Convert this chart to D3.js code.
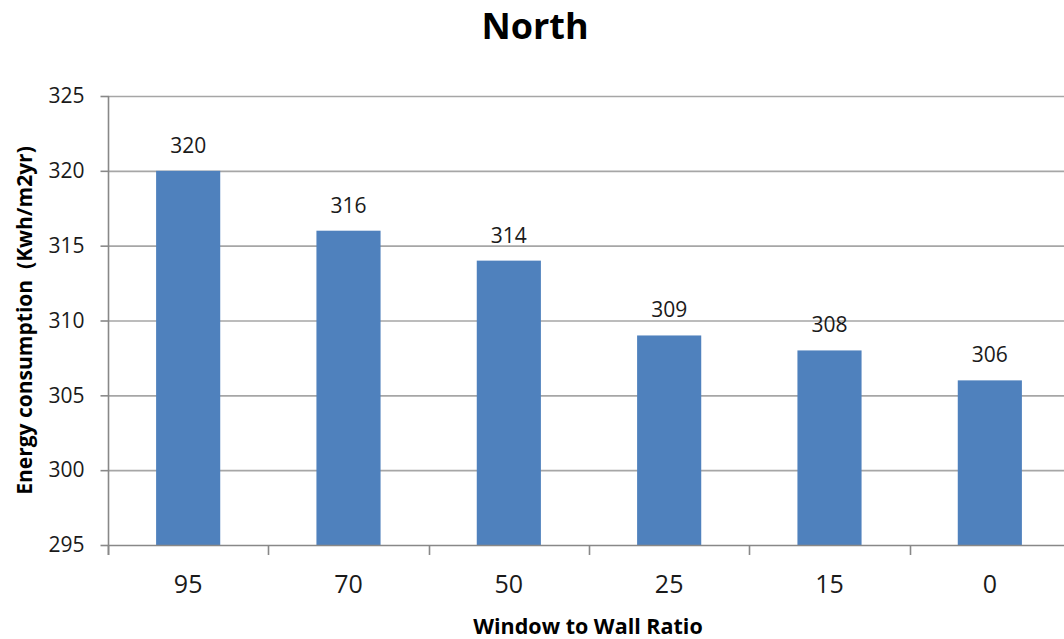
<!DOCTYPE html>
<html>
<head>
<meta charset="utf-8">
<script src="https://cdn.jsdelivr.net/npm/d3@7"></script>
<style>
  html, body { margin: 0; padding: 0; background: #fff; }
  svg { display: block; font-family: "Open Sans", "Noto Sans", sans-serif; }
</style>
</head>
<body>
<svg id="chart" width="1064" height="639"></svg>
<script>
// Window-to-wall ratios (%) and annual energy use for the north facade
const categories = ["95", "70", "50", "25", "15", "0"];
const energyValues = [320, 316, 314, 309, 308, 306];
const yTicks = [295, 300, 305, 310, 315, 320, 325];

const svg = d3.select("#chart");
const plotLeft = 108, plotRight = 1070, plotTop = 96, plotBottom = 545;
const fontFamily = "'Open Sans', 'Noto Sans', sans-serif";

const x = d3.scaleBand().domain(categories).range([plotLeft, plotRight]).padding(0);
const y = d3.scaleLinear().domain([295, 325]).range([plotBottom, plotTop]);

// horizontal gridlines
svg.append("g").selectAll("line").data(yTicks.slice(1)).join("line")
  .attr("x1", plotLeft).attr("x2", plotRight)
  .attr("y1", d => y(d) + 0.5).attr("y2", d => y(d) + 0.5)
  .attr("stroke", "#a6a6a6").attr("stroke-width", 1.6);

// y axis
const yAxis = svg.append("g").attr("transform", `translate(${plotLeft + 0.5},0)`)
  .call(d3.axisLeft(y).tickValues(yTicks).tickSize(8).tickPadding(16).tickFormat(d3.format("d")));
yAxis.attr("font-family", fontFamily);
yAxis.select(".domain").attr("stroke", "#888").attr("stroke-width", 1.6)
  .attr("d", `M0,${plotTop}V${plotBottom + 10}`);
yAxis.selectAll(".tick line").attr("stroke", "#888").attr("stroke-width", 1.6);
yAxis.selectAll(".tick text").attr("font-size", 21).attr("fill", "#1a1a1a");

// bars
const barW = x.step() * 0.4;
svg.append("g").selectAll("rect").data(energyValues).join("rect")
  .attr("x", (d, i) => x(categories[i]) + x.bandwidth() / 2 - barW / 2)
  .attr("y", d => y(d))
  .attr("width", barW)
  .attr("height", d => y(295) - y(d))
  .attr("fill", "#4f81bd");

// x axis
const xAxis = svg.append("g").attr("transform", `translate(0,${plotBottom + 0.5})`)
  .call(d3.axisBottom(x).tickSize(0).tickPadding(30));
xAxis.attr("font-family", fontFamily);
xAxis.select(".domain").attr("stroke", "#888").attr("stroke-width", 1.6)
  .attr("d", `M${plotLeft},0H${plotRight}`);
xAxis.selectAll(".tick text").attr("font-size", 25).attr("fill", "#1a1a1a");
// category boundary ticks
svg.append("g").selectAll("line")
  .data(categories.map(c => x(c)).concat([plotRight]))
  .join("line")
  .attr("x1", d => Math.round(d) + 0.5).attr("x2", d => Math.round(d) + 0.5)
  .attr("y1", plotBottom).attr("y2", plotBottom + 10)
  .attr("stroke", "#888").attr("stroke-width", 1.6);

// value labels
svg.append("g").selectAll("text").data(energyValues).join("text")
  .attr("x", (d, i) => x(categories[i]) + x.bandwidth() / 2)
  .attr("y", d => y(d) - 18)
  .attr("text-anchor", "middle")
  .attr("font-size", 21).attr("fill", "#1a1a1a")
  .text(d => d);

// titles
svg.append("text").attr("x", 535).attr("y", 39).attr("text-anchor", "middle")
  .attr("font-size", 36).attr("font-weight", "bold").attr("fill", "#000")
  .text("North");
svg.append("text").attr("x", 588).attr("y", 634).attr("text-anchor", "middle")
  .attr("font-size", 21.5).attr("font-weight", "bold").attr("fill", "#000")
  .text("Window to Wall Ratio");
svg.append("text")
  .attr("transform", `translate(32,${(plotTop + plotBottom) / 2}) rotate(-90)`)
  .attr("text-anchor", "middle")
  .attr("font-size", 21).attr("font-weight", "bold").attr("fill", "#000")
  .attr("xml:space", "preserve")
  .text("Energy consumption  (Kwh/m2yr)");
</script>
</body>
</html>
